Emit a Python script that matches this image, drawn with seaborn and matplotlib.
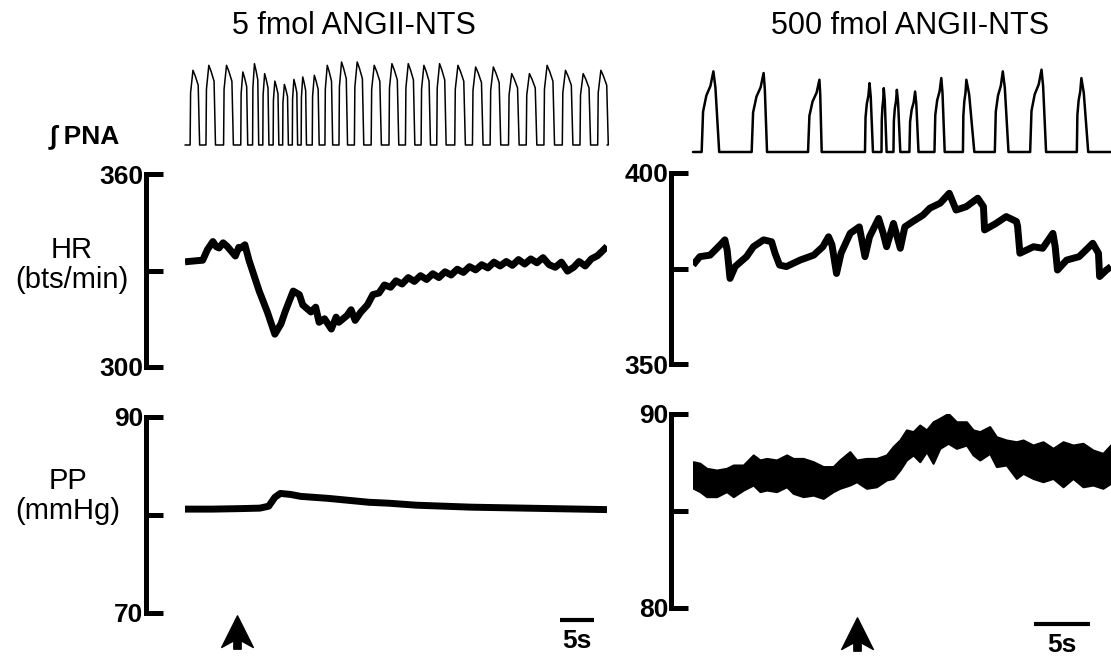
import numpy as np
import seaborn as sns
from matplotlib import pyplot as plt
from matplotlib import transforms
from matplotlib.path import Path

# ---- data ----
# left panel: 5 fmol, 62 s window
PNA_L_PEAK = [1.17, 3.5, 6.1, 8.5, 10.2, 11.7, 13.2, 14.6, 16.0, 17.3, 19.0, 20.9, 23.0, 25.3,
              27.8, 30.4, 32.8, 35.1, 37.4, 40.1, 42.7, 45.3, 48.0, 50.6, 53.2, 55.9, 58.5, 61.1]
PNA_L_H = [0.90, 0.96, 0.96, 0.88, 0.98, 0.86, 0.77, 0.73, 0.79, 0.82, 0.84, 0.96, 1.0, 1.0,
           0.96, 0.98, 0.98, 0.96, 0.98, 0.96, 0.94, 0.94, 0.86, 0.86, 0.96, 0.90, 0.86, 0.90]

HR_L_T = [0, 1.5, 2.6, 3.3, 4.1, 4.6, 5.0, 5.6, 6.2, 6.8, 7.4, 7.9, 8.2, 8.8, 9.4, 10.9, 12.1,
          13.2, 14.1, 14.7, 15.3, 15.9, 16.8, 17.3, 18.5, 19.2, 19.7, 20.5, 21.5, 22.2, 22.6,
          23.8, 24.4, 25.0, 25.8, 26.8, 27.6, 28.5, 29.3, 30.2, 31.0, 31.9, 32.8, 33.7, 34.6,
          35.5, 36.4, 37.3, 38.2, 39.1, 40.0, 40.9, 41.8, 42.7, 43.6, 44.5, 45.4, 46.3, 47.2,
          48.1, 49.0, 49.9, 50.8, 51.7, 52.6, 53.5, 54.4, 55.3, 56.2, 57.1, 57.9, 58.8, 59.7,
          60.6, 61.3, 62.0]
HR_L = [332.7, 333.0, 333.2, 336.5, 339.0, 337.4, 337.0, 338.6, 337.5, 336.0, 334.5, 337.2,
        337.0, 338.0, 333.2, 323.6, 317.1, 310.2, 313.4, 317.1, 320.4, 323.6, 322.5, 319.3,
        317.1, 318.6, 313.9, 315.0, 311.8, 315.5, 313.9, 316.0, 317.8, 314.5, 317.0, 319.3,
        322.5, 323.0, 325.5, 324.8, 326.8, 325.8, 327.8, 326.6, 328.4, 327.2, 329.0, 327.8,
        329.6, 328.6, 330.4, 329.4, 331.2, 330.2, 331.8, 330.8, 332.6, 331.4, 332.8, 331.6,
        333.4, 332.0, 333.6, 332.4, 334.0, 331.8, 331.0, 332.6, 329.8, 331.0, 332.8, 331.4,
        333.6, 334.6, 336.0, 337.5]

PP_L_T = [0, 4, 8, 11, 12.3, 13.2, 14.0, 15.5, 17, 19, 21, 24, 27, 30, 34, 38, 42, 46, 50, 54, 58, 62]
PP_L = [80.6, 80.6, 80.65, 80.7, 80.9, 81.8, 82.2, 82.1, 81.9, 81.8, 81.7, 81.5, 81.3, 81.2,
        81.0, 80.9, 80.8, 80.75, 80.7, 80.65, 80.6, 80.55]

# right panel: 500 fmol, ~36.7 s window
PNA_R_ON = [0.76, 5.15, 10.1, 15.1, 16.55, 17.6, 19.0, 21.2, 23.7, 26.5, 29.6, 33.7]
PNA_R_PEAK = [1.79, 6.2, 11.1, 15.5, 16.75, 17.9, 19.5, 21.8, 24.0, 27.2, 30.6, 34.1]
PNA_R_END = [2.3, 6.5, 11.3, 15.8, 17.0, 18.2, 19.8, 22.1, 24.7, 27.7, 31.0, 34.7]
PNA_R_H = [0.96, 0.94, 0.86, 0.82, 0.76, 0.74, 0.72, 0.88, 0.86, 0.96, 0.98, 0.88]

HR_R_T = [0.0, 0.6, 1.5, 2.4, 2.8, 3.0, 3.25, 3.7, 4.7, 5.3, 6.2, 6.9, 7.2, 7.6, 8.2, 9.4, 10.6,
          11.4, 11.9, 12.2, 12.6, 13.0, 13.8, 14.6, 15.1, 15.5, 16.3, 16.7, 17.0, 17.6, 18.2,
          18.6, 19.3, 20.2, 20.8, 21.7, 22.5, 23.1, 24.0, 25.0, 25.5, 25.6, 26.6, 27.5, 28.4,
          28.5, 28.7, 29.9, 30.7, 31.6, 31.8, 32.0, 32.8, 33.9, 35.1, 35.6, 35.7, 36.3, 36.7]
HR_R = [375.9, 378.1, 378.5, 381.2, 382.5, 379.8, 372.4, 375.5, 378.1, 380.7, 382.5, 382.0,
        379.0, 375.9, 375.5, 377.2, 378.5, 380.7, 383.3, 381.2, 373.7, 379.0, 384.2, 385.9,
        378.1, 383.3, 388.1, 384.2, 380.7, 386.8, 380.3, 385.9, 387.3, 389.0, 390.8, 392.1,
        394.7, 390.3, 391.2, 393.4, 391.2, 385.1, 386.8, 388.6, 387.3, 386.0, 379.0, 380.7,
        380.3, 384.2, 380.7, 374.6, 377.2, 378.1, 381.6, 379.0, 372.9, 374.6, 375.5]

PP_R_T = [0.03, 0.61, 1.20, 2.08, 2.95, 3.54, 4.42, 5.29, 5.88, 6.46, 7.34, 8.22, 8.80, 9.68,
          10.56, 11.43, 12.31, 12.89, 13.77, 14.36, 15.23, 16.11, 16.99, 17.57, 18.16, 18.74,
          19.33, 19.91, 20.50, 21.08, 21.67, 22.40, 23.13, 24.01, 24.59, 25.18, 26.05, 26.64,
          27.51, 28.39, 28.98, 29.85, 30.73, 31.61, 32.49, 33.36, 34.24, 35.12, 35.99, 36.67]
PP_R_HIGH = [87.54, 87.46, 87.20, 87.11, 87.20, 87.37, 87.37, 87.89, 87.63, 87.71, 87.63, 87.89,
             87.71, 87.71, 87.54, 87.29, 87.29, 87.63, 88.06, 87.63, 87.71, 87.71, 87.89, 88.32,
             88.66, 89.18, 89.09, 89.43, 89.18, 89.60, 89.78, 90.03, 89.60, 89.60, 89.18, 89.09,
             89.35, 88.83, 88.66, 88.57, 88.66, 88.40, 88.57, 88.23, 88.57, 88.40, 88.49, 88.14,
             87.97, 88.40]
PP_R_LOW = [86.17, 86.00, 85.74, 85.74, 86.00, 85.74, 86.08, 86.34, 86.00, 86.08, 86.00, 86.25,
            85.91, 85.74, 85.82, 85.65, 86.00, 86.17, 86.34, 86.51, 86.17, 86.25, 86.60, 86.68,
            87.11, 87.63, 87.89, 87.54, 88.06, 87.46, 88.23, 88.49, 88.23, 88.40, 87.89, 87.63,
            87.97, 87.29, 87.37, 86.68, 86.94, 86.68, 86.51, 86.68, 86.25, 86.68, 86.25, 86.34,
            86.17, 86.43]

HR_L_TICKS = [300, 330, 360]
HR_R_TICKS = [350, 375, 400]
PP_L_TICKS = [70, 80, 90]
PP_R_TICKS = [80, 85, 90]

T_END_L = 62.0
T_END_R = 36.7
INJECT_L = 7.6
INJECT_R = 14.4
SCALE_BAR = 5
BAR_START_L = 55.1
BAR_START_R = 29.9

# ---- figure layout in pixels ----
W, H = 1111, 656
sns.set_style("white")
plt.rcParams["font.family"] = ["Liberation Sans", "DejaVu Sans"]
plt.rcParams["text.color"] = "black"
plt.rcParams["ytick.color"] = "black"
plt.rcParams["axes.edgecolor"] = "black"

fig = plt.figure(figsize=(W / 100, H / 100), dpi=100)

# stealth-style arrow marker used for the injection time
ARROW = Path([(0, 1.0), (0.95, -0.9), (0.22, -0.5), (0.22, -1.0), (-0.22, -1.0),
              (-0.22, -0.5), (-0.95, -0.9), (0, 1.0)],
             [Path.MOVETO] + [Path.LINETO] * 6 + [Path.CLOSEPOLY])


def rect(x0, x1, ytop, ybot):
    return [x0 / W, (H - ybot) / H, (x1 - x0) / W, (ybot - ytop) / H]


def burst_trace_left(peaks, heights, t_end):
    t, v = [0.0], [0.0]
    for i, (p, h) in enumerate(zip(peaks, heights)):
        gap_next = peaks[i + 1] - p if i + 1 < len(peaks) else 2.6
        gap_prev = p - peaks[i - 1] if i > 0 else 2.6
        w = 0.6 * min(gap_next, gap_prev, 2.6)
        o = p - 0.3 * w
        for f, g in zip([0, 0.05, 0.3, 0.55, 0.85, 0.95, 1.0],
                        [0, 0.7, 1.0, 0.92, 0.8, 0.3, 0]):
            t.append(o + f * w)
            v.append(g * h)
    t.append(t_end)
    v.append(0.0)
    return t, v


def burst_trace_right(onsets, peaks, ends, heights, t_end):
    t, v = [0.0], [0.0]
    for o, p, e, h in zip(onsets, peaks, ends, heights):
        r = p - o
        f = e - p
        t += [o, o + 0.12 * r, o + 0.4 * r, o + 0.75 * r, p, p + 0.35 * f, e]
        v += [0, 0.5 * h, 0.7 * h, 0.82 * h, h, 0.8 * h, 0]
    t.append(t_end)
    v.append(0.0)
    return t, v


def style_scale_axis(ax, ticks, outward_px):
    sns.despine(ax=ax, top=True, right=True, bottom=True, left=False)
    ax.spines["left"].set_position(("outward", outward_px * 0.72))
    ax.spines["left"].set_linewidth(3.6)
    ax.spines["left"].set_color("black")
    ax.spines["left"].set_bounds(ticks[0], ticks[-1])
    ax.spines["left"].set_capstyle("projecting")
    ax.set_yticks(ticks)
    ax.set_yticklabels([str(ticks[0]), "", str(ticks[-1])], fontsize=19, fontweight="bold")
    ax.tick_params(axis="y", left=True, direction="in", length=12.5, width=3.6, pad=2,
                   color="black", labelcolor="black")
    ax.set_xticks([])
    ax.set_xlabel("")
    ax.set_ylabel("")
    ax.patch.set_alpha(0)


# left panel axes
ax_pna_l = fig.add_axes(rect(185, 607, 62, 145))
ax_hr_l = fig.add_axes(rect(185, 607, 174, 367))
ax_pp_l = fig.add_axes(rect(185, 607, 417, 613))
# right panel axes
ax_pna_r = fig.add_axes(rect(693, 1111, 68, 152))
ax_hr_r = fig.add_axes(rect(693, 1111, 173, 364))
ax_pp_r = fig.add_axes(rect(693, 1111, 414, 608))

# PNA traces
tl, vl = burst_trace_left(PNA_L_PEAK, PNA_L_H, T_END_L)
sns.lineplot(x=tl, y=vl, ax=ax_pna_l, color="black", lw=1.1, sort=False, estimator=None)
tr, vr = burst_trace_right(PNA_R_ON, PNA_R_PEAK, PNA_R_END, PNA_R_H, T_END_R)
sns.lineplot(x=tr, y=vr, ax=ax_pna_r, color="black", lw=1.8, sort=False, estimator=None)
for ax, tend in [(ax_pna_l, T_END_L), (ax_pna_r, T_END_R)]:
    ax.set_xlim(0, tend)
    ax.set_ylim(0, 1)
    ax.axis("off")
    for ln in ax.lines:
        ln.set_clip_on(False)

# HR traces
sns.lineplot(x=HR_L_T, y=HR_L, ax=ax_hr_l, color="black", lw=5, sort=False, estimator=None)
ax_hr_l.set_xlim(0, T_END_L)
ax_hr_l.set_ylim(HR_L_TICKS[0], HR_L_TICKS[-1])
style_scale_axis(ax_hr_l, HR_L_TICKS, 39)

sns.lineplot(x=HR_R_T, y=HR_R, ax=ax_hr_r, color="black", lw=5, sort=False, estimator=None)
ax_hr_r.set_xlim(0, T_END_R)
ax_hr_r.set_ylim(HR_R_TICKS[0], HR_R_TICKS[-1])
style_scale_axis(ax_hr_r, HR_R_TICKS, 22)

# PP traces
sns.lineplot(x=PP_L_T, y=PP_L, ax=ax_pp_l, color="black", lw=5, sort=False, estimator=None)
ax_pp_l.set_xlim(0, T_END_L)
ax_pp_l.set_ylim(PP_L_TICKS[0], PP_L_TICKS[-1])
style_scale_axis(ax_pp_l, PP_L_TICKS, 39)

ax_pp_r.fill_between(PP_R_T, PP_R_LOW, PP_R_HIGH, color="black", lw=1.5)
ax_pp_r.set_xlim(0, T_END_R)
ax_pp_r.set_ylim(PP_R_TICKS[0], PP_R_TICKS[-1])
style_scale_axis(ax_pp_r, PP_R_TICKS, 22)

for ax in [ax_hr_l, ax_hr_r, ax_pp_l, ax_pp_r]:
    for ln in ax.lines:
        ln.set_solid_capstyle("butt")

# injection arrows and 5 s scale bars
for ax, t_inj, y_mid in [(ax_pp_l, INJECT_L, 632), (ax_pp_r, INJECT_R, 634)]:
    trans = transforms.blended_transform_factory(ax.transData, fig.transFigure)
    ax.plot([t_inj], [1 - y_mid / H], marker=ARROW, markersize=24, color="black", lw=0,
            transform=trans, clip_on=False)

for ax, t0, y_bar, y_txt in [(ax_pp_l, BAR_START_L, 620, 641), (ax_pp_r, BAR_START_R, 624, 645)]:
    trans = transforms.blended_transform_factory(ax.transData, fig.transFigure)
    ax.plot([t0, t0 + SCALE_BAR], [1 - y_bar / H] * 2, color="black", lw=3,
            transform=trans, clip_on=False, solid_capstyle="butt")
    ax.text(t0 + SCALE_BAR / 2, 1 - y_txt / H, f"{SCALE_BAR}s", transform=trans,
            ha="center", va="center", fontsize=19, fontweight="bold")

# text labels
fig.text(354 / W, 1 - 26 / H, "5 fmol ANGII-NTS", ha="center", va="center", fontsize=22)
fig.text(910 / W, 1 - 26 / H, "500 fmol ANGII-NTS", ha="center", va="center", fontsize=22)
fig.text(120 / W, 1 - 137 / H, "\u222b PNA", ha="right", va="center", fontsize=19,
         fontweight="bold")
fig.text(72 / W, 1 - 265 / H, "HR\n(bts/min)", ha="center", va="center", fontsize=21,
         linespacing=1.1)
fig.text(68 / W, 1 - 496 / H, "PP\n(mmHg)", ha="center", va="center", fontsize=21,
         linespacing=1.1)

fig.savefig("out.png", dpi=100)
